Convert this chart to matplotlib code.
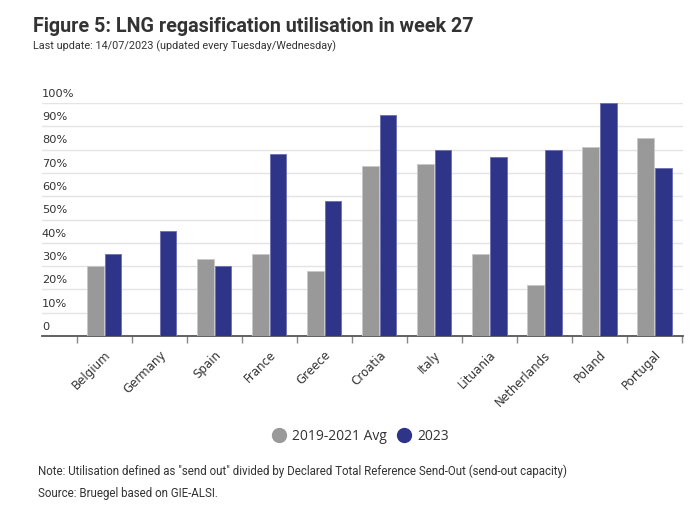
import matplotlib
matplotlib.use('Agg')
import matplotlib.pyplot as plt
import numpy as np

# Данные
countries = ['Belgium', 'Germany', 'Spain', 'France', 'Greece', 'Croatia',
             'Italy', 'Lituania', 'Netherlands', 'Poland', 'Portugal']
avg_2019_2021 = [30, 0, 33, 35, 28, 73, 74, 35, 22, 81, 85]
util_2023 = [35, 45, 30, 78, 58, 95, 80, 77, 80, 100, 72]
y_ticks = [0, 10, 20, 30, 40, 50, 60, 70, 80, 90, 100]
y_labels = ['0'] + [f'{v}%' for v in y_ticks[1:]]

GREY = '#999999'
BLUE = '#2e3589'
W, H = 698, 508

fig = plt.figure(figsize=(W / 100, H / 100), dpi=100)
ax = fig.add_axes([42 / W, 1 - 336 / H, (683 - 42) / W, (336 - 103) / H])

x = np.arange(len(countries))
bw = 0.305
ax.bar(x - 0.16, avg_2019_2021, width=bw, color=GREY, edgecolor='#c8c8c8', linewidth=0.6, zorder=3)
ax.bar(x + 0.16, util_2023, width=bw, color=BLUE, edgecolor='#6a6fb3', linewidth=0.6, zorder=3)

ax.set_xlim(-1.13, 10.52)
ax.set_ylim(0, 100)

# сетка
for v in y_ticks[1:]:
    ax.axhline(v, color='#e4e4e4', linewidth=1, zorder=1)
for v, lab in zip(y_ticks, y_labels):
    ax.text(-1.13, v + 1.8, lab, ha='left', va='bottom', fontsize=8.2,
            family='DejaVu Sans', color='#333333')

ax.set_yticks([])
for s in ['top', 'right', 'left']:
    ax.spines[s].set_visible(False)
ax.spines['bottom'].set_color('#555555')
ax.spines['bottom'].set_linewidth(1.3)

ax.set_xticks(x)
ax.set_xticklabels(countries, rotation=45, ha='right', rotation_mode='anchor',
                   fontsize=8.5, family='DejaVu Sans', color='#333333')
ax.tick_params(axis='x', which='major', length=0, pad=9)
ax.set_xticks(np.arange(-0.5, len(countries), 1), minor=True)
ax.tick_params(axis='x', which='minor', length=5, color='#888888', width=1)

# Заголовки
fig.text(33 / W, 1 - 27 / H, 'Figure 5: LNG regasification utilisation in week 27',
         fontsize=14.2, fontweight='bold', family='Roboto', color='#333333', va='center')
fig.text(33 / W, 1 - 46 / H, 'Last update: 14/07/2023 (updated every Tuesday/Wednesday)',
         fontsize=7.85, family='Roboto', color='#333333', va='center')

# Легенда
h1 = plt.Line2D([], [], marker='o', color=GREY, linestyle='none', markersize=10)
h2 = plt.Line2D([], [], marker='o', color=BLUE, linestyle='none', markersize=10)
leg = fig.legend([h1, h2], ['2019-2021 Avg', '2023'], loc='center',
                 bbox_to_anchor=(361 / W, 1 - 436 / H), ncol=2, frameon=False,
                 handlelength=0.8, handletextpad=0.5, columnspacing=0.9,
                 prop={'family': 'Open Sans', 'size': 10})
for t in leg.get_texts():
    t.set_color('#333333')

fig.text(38 / W, 1 - 471 / H,
         'Note: Utilisation defined as "send out" divided by Declared Total Reference Send-Out (send-out capacity)',
         fontsize=8.3, family='Roboto', color='#333333', va='center')
fig.text(38 / W, 1 - 493 / H, 'Source: Bruegel based on GIE-ALSI.',
         fontsize=8.3, family='Roboto', color='#333333', va='center')

fig.savefig('out.png', dpi=100)
